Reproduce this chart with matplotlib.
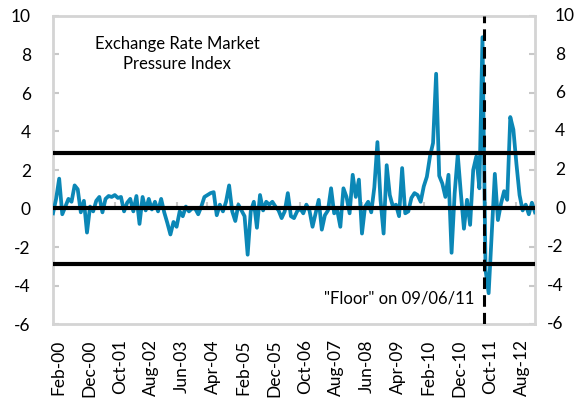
import numpy as np
import matplotlib.pyplot as plt
import matplotlib.transforms as mtransforms

# monthly exchange rate market pressure index, Feb-00 onwards
emp = [
    -0.25, 0.5, 1.55, -0.3, 0.1, 0.5, 0.35, 1.2, 1.0, -0.2,
    0.4, -1.25, 0.1, -0.15, 0.4, 0.6, -0.2, 0.5, 0.65, 0.6,
    0.7, 0.55, 0.6, -0.15, 0.3, 0.5, -0.15, 0.65, -0.8, 0.6,
    -0.1, 0.5, -0.05, 0.35, -0.15, 0.5, -0.2, -0.75, -1.35, -0.7,
    -0.95, -0.15, -0.4, 0.1, -0.15, 0.0, 0.0, -0.3, 0.1, 0.6,
    0.7, 0.8, 0.85, -0.35, 0.2, -0.15, 0.35, 1.2, -0.15, -0.65,
    0.2, -0.1, -0.4, -2.4, -0.15, 0.35, -1.0, 0.7, -0.1, 0.35,
    0.2, 0.35, 0.1, -0.1, -0.5, -0.15, 0.8, -0.4, -0.5, -0.15,
    0.0, -0.25, 0.2, -0.1, -0.95, -0.25, 0.45, -1.1, -0.35, -0.1,
    1.05, -0.25, -0.1, -0.95, 1.05, 0.6, -0.25, 1.75, 0.6, 1.5,
    -1.3, 0.1, 0.35, -0.2, 1.1, 3.45, 0.45, -1.3, 2.25, 0.7,
    0.1, 0.2, -0.4, 2.1, -0.25, -0.15, 0.55, 0.8, 0.7, 0.35,
    1.15, 1.65, 2.7, 3.4, 7.0, 1.7, 1.3, 0.6, 1.75, -2.3,
    0.8, 2.8, 0.8, -1.05, 0.45, -0.85, 2.0, 2.7, 1.05, 8.9,
    -3.2, -4.4, -1.3, 1.8, -0.6, 0.25, 0.9, 0.45, 4.75, 4.1,
    2.3, 0.7, -0.1, 0.2, -0.3, 0.3, -0.2,
]
tick_labels = ['Feb-00', 'Dec-00', 'Oct-01', 'Aug-02', 'Jun-03', 'Apr-04',
               'Feb-05', 'Dec-05', 'Oct-06', 'Aug-07', 'Jun-08', 'Apr-09',
               'Feb-10', 'Dec-10', 'Oct-11', 'Aug-12']
band = 2.9          # threshold lines
floor_pos = 139.6   # 6 Sep 2011, in months since Feb-00
yticks = np.arange(-6, 11, 2)

plt.rcParams['font.family'] = ['Lato', 'DejaVu Sans']
W, H = 579, 411
fig = plt.figure(figsize=(W / 100, H / 100), dpi=100)
ax = fig.add_axes([53 / W, 1 - 324 / H, 482 / W, 308 / H])

x = np.arange(len(emp))
ax.plot(x, emp, color='#0b87b6', lw=2.7, zorder=3)
for y in (band, 0, -band):
    ax.axhline(y, color='black', lw=3, zorder=4)
ax.axvline(floor_pos, color='black', lw=2.2, ls=(0, (3.8, 2.0)), zorder=5)

xt = np.arange(0, len(emp), 10)[:len(tick_labels)]
ax.vlines(xt, 0, 0.35, color='#c8c8c8', lw=1.5, zorder=2)

ax.set_xlim(0, len(emp) - 1)
ax.set_ylim(-6, 10)
ax.set_xticks(xt)
ax.set_xticklabels(tick_labels, rotation=90, fontsize=12.5)
ax.tick_params(axis='x', length=0, pad=11)
shift = mtransforms.ScaledTranslation(5 / 100, 0, fig.dpi_scale_trans)
for lab in ax.get_xticklabels():
    lab.set_transform(lab.get_transform() + shift)
ax.set_yticks(yticks)
ax.set_yticklabels([str(v) for v in yticks], fontsize=12.5)
ax.tick_params(axis='y', direction='in', length=4, width=1.5, color='#c8c8c8',
               right=True, pad=16)

for s in ax.spines.values():
    s.set_color('#d4d4d4')
    s.set_linewidth(2)

# right-hand labels: digits aligned, minus sign hanging to the left
trans = mtransforms.blended_transform_factory(fig.transFigure, ax.transData)
for v in yticks:
    xpos = 547 if v < 0 else 555
    ax.text(xpos / W, v, str(v), transform=trans, ha='left', va='center',
            fontsize=12.5, clip_on=False)

fig.text(177 / W, 1 - 54 / H, 'Exchange Rate Market\nPressure Index',
         ha='center', va='center', multialignment='center', fontsize=12,
         linespacing=1.3)
fig.text(474 / W, 1 - 298 / H, '"Floor" on 09/06/11', ha='right', va='center',
         fontsize=12)

fig.savefig('out.png', dpi=100)
